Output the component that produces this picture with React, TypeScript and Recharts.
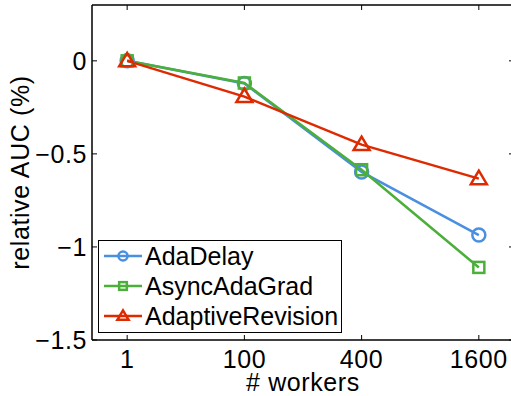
import React from "react";
import {
  LineChart,
  Line,
  XAxis,
  YAxis,
  Legend,
  ReferenceLine,
} from "recharts";

const workers = ["1", "100", "400", "1600"];
const adaDelay = [0, -0.122, -0.597, -0.936];
const asyncAdaGrad = [0, -0.119, -0.585, -1.11];
const adaptiveRevision = [0, -0.192, -0.45, -0.633];
const yTicks = [0, -0.5, -1, -1.5];

const BLUE = "#4a8fe0";
const GREEN = "#4caf3a";
const RED = "#de2a00";
const FONT = "'Liberation Sans', Arial, Helvetica, sans-serif";

const W = 514;
const H = 396;
const PLOT_LEFT = 92;
const PLOT_RIGHT = W;
const PLOT_TOP = 5;
const PLOT_BOTTOM = 340;
const TICK = 5;

const data = workers.map((w, i) => ({
  idx: i,
  label: w,
  AdaDelay: adaDelay[i],
  AsyncAdaGrad: asyncAdaGrad[i],
  AdaptiveRevision: adaptiveRevision[i],
}));

const series = [
  { key: "AdaDelay", color: BLUE, shape: "circle" },
  { key: "AsyncAdaGrad", color: GREEN, shape: "square" },
  { key: "AdaptiveRevision", color: RED, shape: "triangle" },
];

function Marker({ cx, cy, shape, color, s = 1 }: any) {
  if (cx == null || cy == null) return null;
  if (shape === "circle")
    return <circle cx={cx} cy={cy} r={6.5 * s} fill="none" stroke={color} strokeWidth={2.5} />;
  if (shape === "square")
    return (
      <rect x={cx - 5.5 * s} y={cy - 5.5 * s} width={11 * s} height={11 * s} fill="none" stroke={color} strokeWidth={2.5} />
    );
  return (
    <polygon
      points={`${cx},${cy - 8 * s} ${cx - 8 * s},${cy + 5.5 * s} ${cx + 8 * s},${cy + 5.5 * s}`}
      fill="none"
      stroke={color}
      strokeWidth={2.5}
    />
  );
}

const fmtY = (v: number) => (v === 0 ? "0" : "\u2212" + Math.abs(v));

function YTick({ y, payload }: any) {
  return (
    <g>
      <line x1={PLOT_LEFT} x2={PLOT_LEFT + TICK} y1={y} y2={y} stroke="#000" strokeWidth={1} />
      <line x1={PLOT_RIGHT - TICK} x2={PLOT_RIGHT} y1={y} y2={y} stroke="#000" strokeWidth={1} />
      <text x={PLOT_LEFT - 5} y={y} dy={8.8} textAnchor="end" fontSize={25} letterSpacing={0.6} fontFamily={FONT} fill="#000">
        {fmtY(payload.value)}
      </text>
    </g>
  );
}

function XTick({ x, payload }: any) {
  return (
    <g>
      <line x1={x} x2={x} y1={PLOT_BOTTOM} y2={PLOT_BOTTOM - TICK} stroke="#000" strokeWidth={1} />
      <line x1={x} x2={x} y1={PLOT_TOP} y2={PLOT_TOP + TICK} stroke="#000" strokeWidth={1} />
      <text x={x} y={368} textAnchor="middle" fontSize={25} letterSpacing={0.6} fontFamily={FONT} fill="#000">
        {workers[payload.value]}
      </text>
    </g>
  );
}

function LegendBox() {
  return (
    <div
      style={{
        width: 242,
        height: 91,
        border: "1.5px solid #000",
        background: "#fff",
        boxSizing: "content-box",
      }}
    >
      {series.map((s, i) => (
        <div
          key={s.key}
          style={{
            position: "absolute",
            left: 0,
            top: 0.5 + i * 30,
            height: 30,
            display: "flex",
            alignItems: "center",
          }}
        >
          <svg width={46} height={30} style={{ display: "block" }}>
            <line x1={6} x2={44} y1={15} y2={15} stroke={s.color} strokeWidth={2.5} />
            <Marker cx={25} cy={15} shape={s.shape} color={s.color} s={0.7} />
          </svg>
          <span
            style={{
              fontFamily: FONT,
              fontSize: 25,
              color: "#000",
              marginLeft: 1,
              lineHeight: "30px",
              whiteSpace: "nowrap",
            }}
          >
            {s.key}
          </span>
        </div>
      ))}
    </div>
  );
}

export default function App() {
  return (
    <div
      style={{
        position: "absolute",
        left: 0,
        top: 0,
        width: 511,
        height: 396,
        overflow: "hidden",
        background: "#fff",
      }}
    >
      <LineChart width={W} height={H} data={data} margin={{ top: PLOT_TOP, right: 0, bottom: 0, left: 0 }}>
        <XAxis
          dataKey="idx"
          type="number"
          domain={[-0.3, 3.3]}
          ticks={[0, 1, 2, 3]}
          tickLine={false}
          tick={<XTick />}
          height={H - PLOT_BOTTOM}
          axisLine={{ stroke: "#000", strokeWidth: 1.5 }}
          label={{
            value: "# workers",
            position: "insideBottom",
            offset: 5,
            fontSize: 25,
            letterSpacing: 0.6,
            fontFamily: FONT,
            fill: "#000",
          }}
        />
        <YAxis
          type="number"
          domain={[-1.5, 0.3]}
          ticks={yTicks}
          tickLine={false}
          tick={<YTick />}
          width={PLOT_LEFT}
          axisLine={{ stroke: "#000", strokeWidth: 1.5 }}
          label={{
            value: "relative AUC (%)",
            angle: -90,
            position: "insideLeft",
            offset: 20,
            style: { textAnchor: "middle" },
            fontSize: 25,
            letterSpacing: 0.6,
            fontFamily: FONT,
            fill: "#000",
          }}
        />
        <ReferenceLine y={0.3} stroke="#000" strokeWidth={1.5} />
        <ReferenceLine x={3.3} stroke="#000" strokeWidth={1.5} />
        {series.map((s) => (
          <Line
            key={s.key}
            dataKey={s.key}
            stroke={s.color}
            strokeWidth={2.5}
            isAnimationActive={false}
            dot={(p: any) => <Marker key={`${s.key}-${p.index}`} cx={p.cx} cy={p.cy} shape={s.shape} color={s.color} />}
          />
        ))}
        <Legend
          layout="vertical"
          align="center"
          verticalAlign="middle"
          content={<LegendBox />}
          wrapperStyle={{ position: "absolute", left: 98, top: 240, width: 245, height: 94 }}
        />
      </LineChart>
    </div>
  );
}
